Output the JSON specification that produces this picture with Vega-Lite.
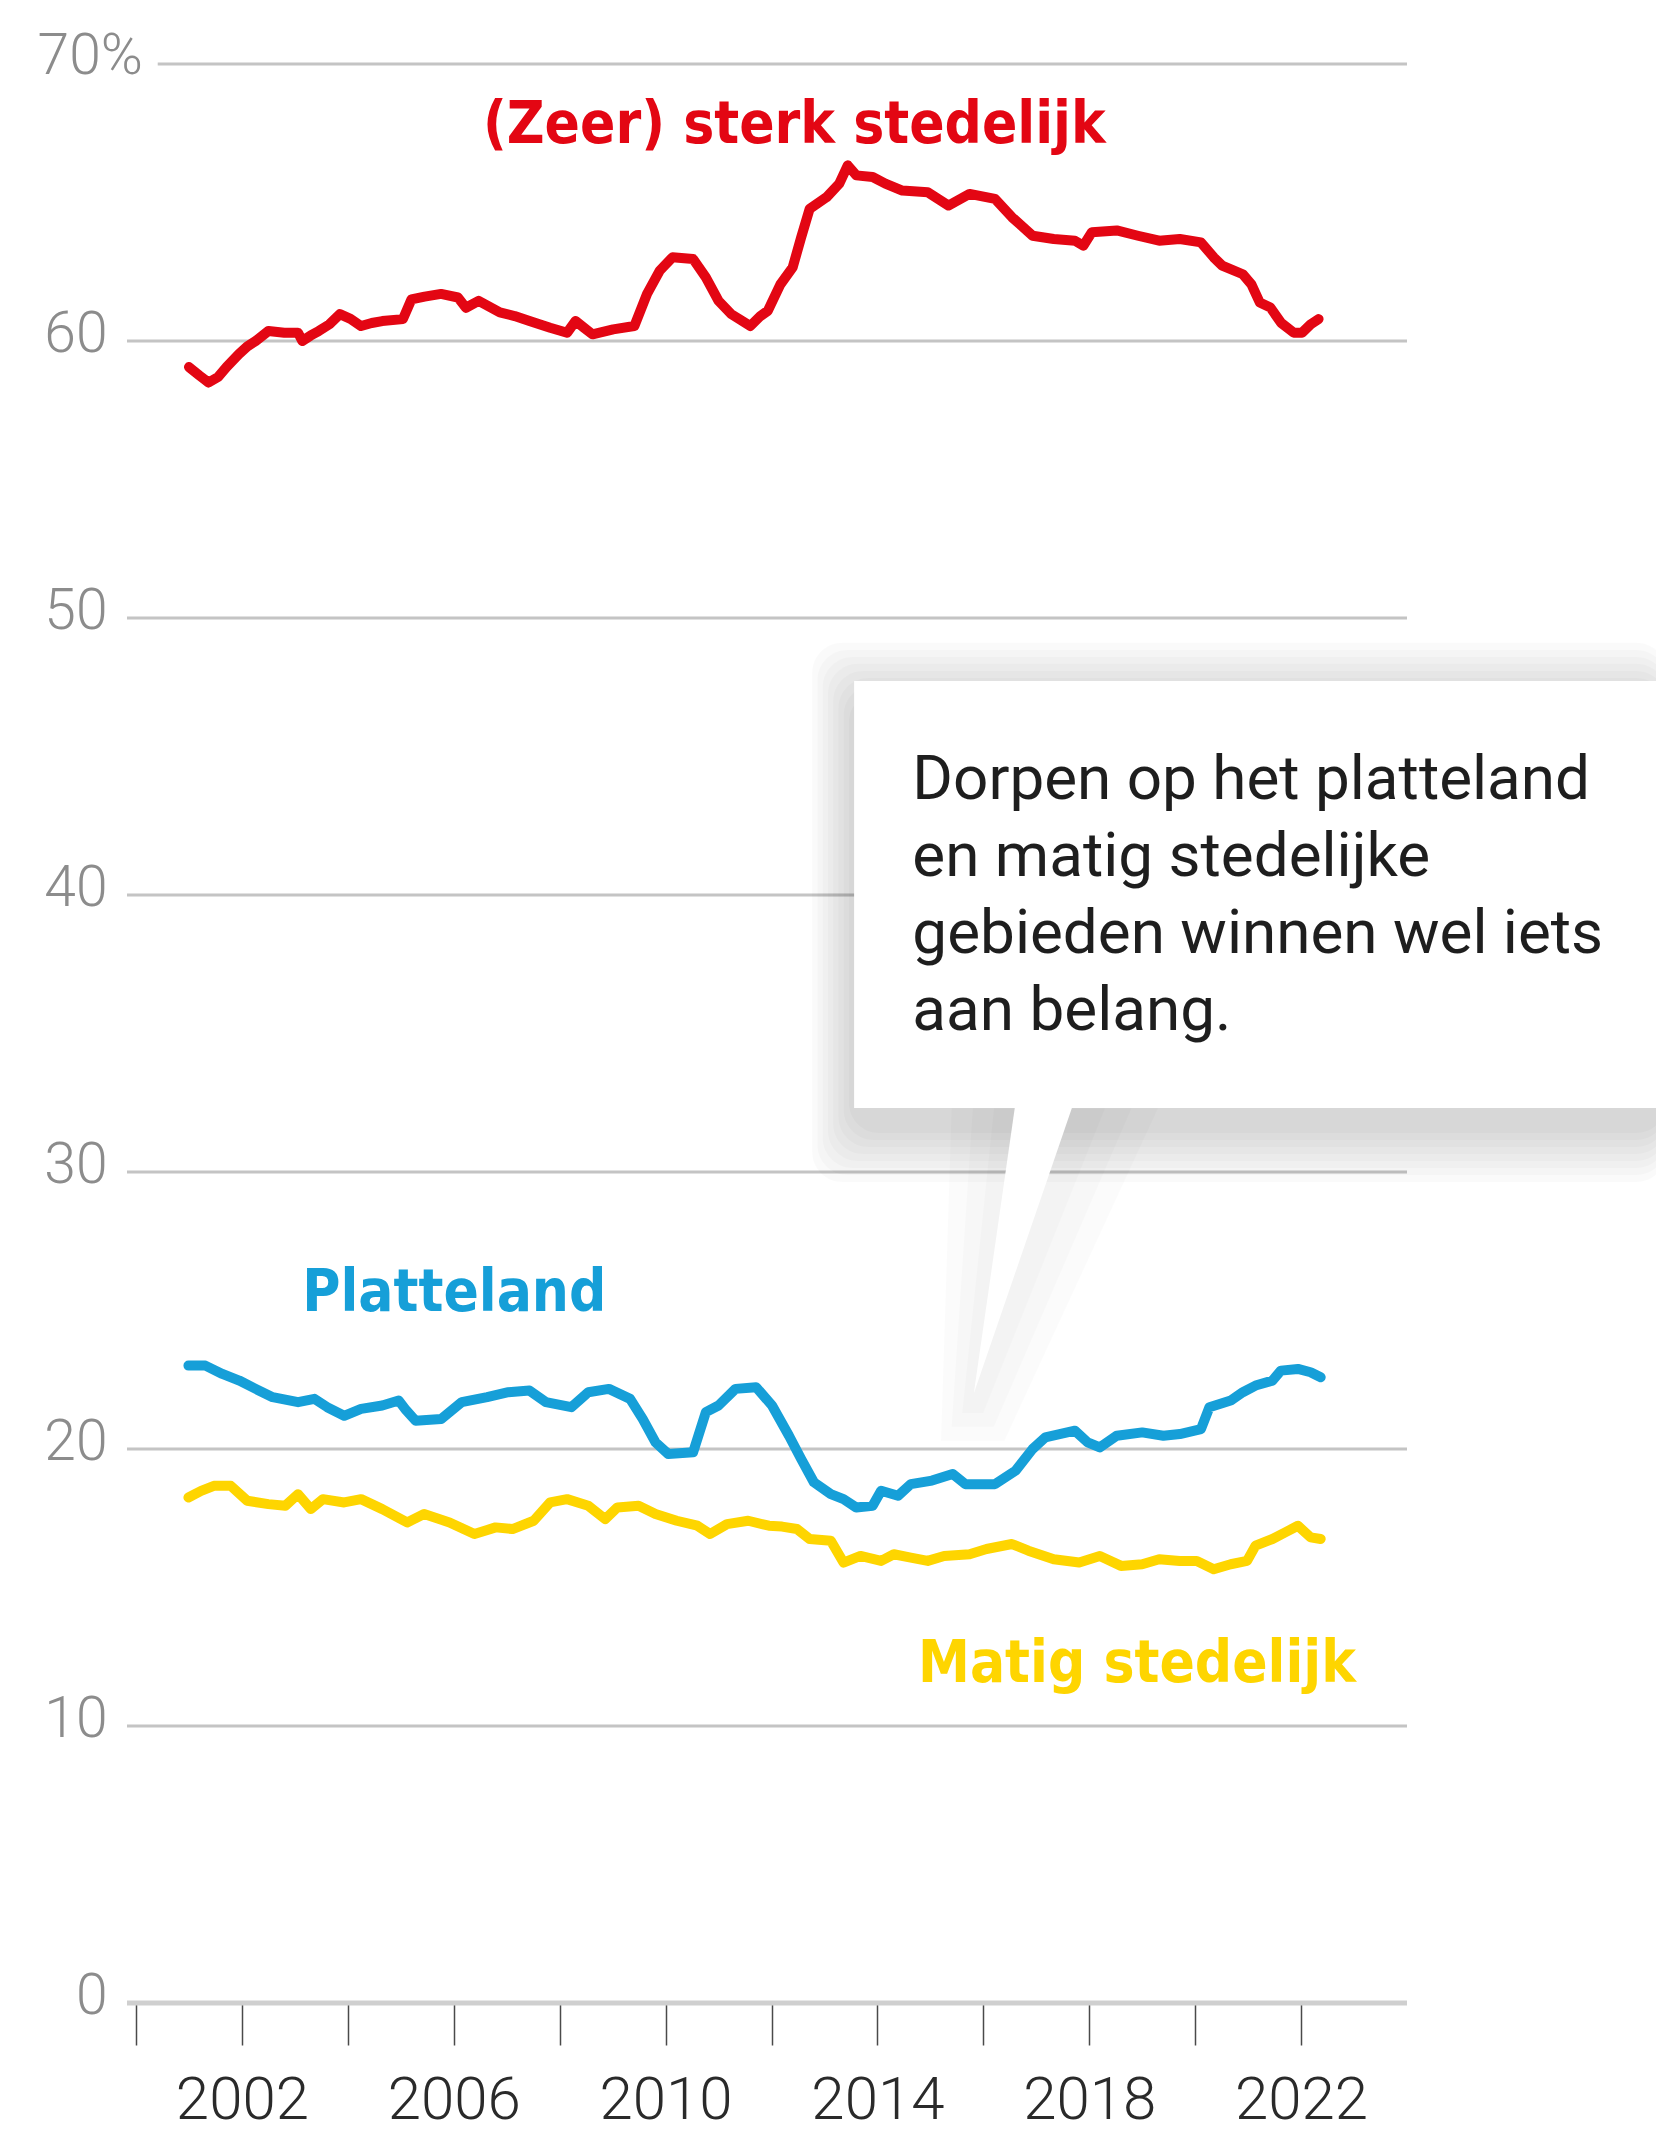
{
"$schema":"https://vega.github.io/schema/vega-lite/v6.json",
"width":1280,"height":1939,
"autosize":{"type":"none"},
"padding":{"left":127,"top":64,"right":249,"bottom":135},
"background":"white",
"config":{"view":{"stroke":null}},
"datasets":{
"grid":[{"v":10,"t":1999.83,"t2":2024},{"v":20,"t":1999.83,"t2":2024},{"v":30,"t":1999.83,"t2":2024},{"v":40,"t":1999.83,"t2":2024},{"v":50,"t":1999.83,"t2":2024},{"v":60,"t":1999.83,"t2":2024},{"v":70,"t":2000.41,"t2":2024}],
"base":[{"v":0,"t":1999.83,"t2":2024}],
"series":[
{"s":"(Zeer) sterk stedelijk","t":2001.0,"v":59.06},{"s":"(Zeer) sterk stedelijk","t":2001.2,"v":58.75},{"s":"(Zeer) sterk stedelijk","t":2001.37,"v":58.5},{"s":"(Zeer) sterk stedelijk","t":2001.55,"v":58.7},{"s":"(Zeer) sterk stedelijk","t":2001.71,"v":59.06},{"s":"(Zeer) sterk stedelijk","t":2001.94,"v":59.52},{"s":"(Zeer) sterk stedelijk","t":2002.1,"v":59.8},{"s":"(Zeer) sterk stedelijk","t":2002.26,"v":60.0},{"s":"(Zeer) sterk stedelijk","t":2002.5,"v":60.36},{"s":"(Zeer) sterk stedelijk","t":2002.8,"v":60.3},{"s":"(Zeer) sterk stedelijk","t":2003.06,"v":60.3},{"s":"(Zeer) sterk stedelijk","t":2003.14,"v":60.0},{"s":"(Zeer) sterk stedelijk","t":2003.3,"v":60.2},{"s":"(Zeer) sterk stedelijk","t":2003.45,"v":60.36},{"s":"(Zeer) sterk stedelijk","t":2003.65,"v":60.6},{"s":"(Zeer) sterk stedelijk","t":2003.85,"v":60.97},{"s":"(Zeer) sterk stedelijk","t":2004.05,"v":60.8},{"s":"(Zeer) sterk stedelijk","t":2004.25,"v":60.54},{"s":"(Zeer) sterk stedelijk","t":2004.45,"v":60.65},{"s":"(Zeer) sterk stedelijk","t":2004.65,"v":60.72},{"s":"(Zeer) sterk stedelijk","t":2005.04,"v":60.79},{"s":"(Zeer) sterk stedelijk","t":2005.2,"v":61.5},{"s":"(Zeer) sterk stedelijk","t":2005.45,"v":61.6},{"s":"(Zeer) sterk stedelijk","t":2005.76,"v":61.7},{"s":"(Zeer) sterk stedelijk","t":2006.08,"v":61.57},{"s":"(Zeer) sterk stedelijk","t":2006.23,"v":61.2},{"s":"(Zeer) sterk stedelijk","t":2006.47,"v":61.45},{"s":"(Zeer) sterk stedelijk","t":2006.87,"v":61.03},{"s":"(Zeer) sterk stedelijk","t":2007.15,"v":60.9},{"s":"(Zeer) sterk stedelijk","t":2007.43,"v":60.72},{"s":"(Zeer) sterk stedelijk","t":2007.82,"v":60.48},{"s":"(Zeer) sterk stedelijk","t":2008.14,"v":60.3},{"s":"(Zeer) sterk stedelijk","t":2008.3,"v":60.72},{"s":"(Zeer) sterk stedelijk","t":2008.46,"v":60.48},{"s":"(Zeer) sterk stedelijk","t":2008.62,"v":60.24},{"s":"(Zeer) sterk stedelijk","t":2009.01,"v":60.42},{"s":"(Zeer) sterk stedelijk","t":2009.41,"v":60.54},{"s":"(Zeer) sterk stedelijk","t":2009.65,"v":61.7},{"s":"(Zeer) sterk stedelijk","t":2009.89,"v":62.54},{"s":"(Zeer) sterk stedelijk","t":2010.13,"v":63.02},{"s":"(Zeer) sterk stedelijk","t":2010.52,"v":62.96},{"s":"(Zeer) sterk stedelijk","t":2010.76,"v":62.3},{"s":"(Zeer) sterk stedelijk","t":2011.0,"v":61.45},{"s":"(Zeer) sterk stedelijk","t":2011.24,"v":60.97},{"s":"(Zeer) sterk stedelijk","t":2011.6,"v":60.54},{"s":"(Zeer) sterk stedelijk","t":2011.79,"v":60.9},{"s":"(Zeer) sterk stedelijk","t":2011.93,"v":61.09},{"s":"(Zeer) sterk stedelijk","t":2012.17,"v":62.05},{"s":"(Zeer) sterk stedelijk","t":2012.4,"v":62.66},{"s":"(Zeer) sterk stedelijk","t":2012.56,"v":63.74},{"s":"(Zeer) sterk stedelijk","t":2012.72,"v":64.77},{"s":"(Zeer) sterk stedelijk","t":2013.04,"v":65.19},{"s":"(Zeer) sterk stedelijk","t":2013.28,"v":65.68},{"s":"(Zeer) sterk stedelijk","t":2013.44,"v":66.34},{"s":"(Zeer) sterk stedelijk","t":2013.6,"v":65.98},{"s":"(Zeer) sterk stedelijk","t":2013.91,"v":65.92},{"s":"(Zeer) sterk stedelijk","t":2014.15,"v":65.68},{"s":"(Zeer) sterk stedelijk","t":2014.47,"v":65.43},{"s":"(Zeer) sterk stedelijk","t":2014.95,"v":65.37},{"s":"(Zeer) sterk stedelijk","t":2015.34,"v":64.89},{"s":"(Zeer) sterk stedelijk","t":2015.74,"v":65.31},{"s":"(Zeer) sterk stedelijk","t":2016.22,"v":65.13},{"s":"(Zeer) sterk stedelijk","t":2016.54,"v":64.47},{"s":"(Zeer) sterk stedelijk","t":2016.93,"v":63.8},{"s":"(Zeer) sterk stedelijk","t":2017.33,"v":63.68},{"s":"(Zeer) sterk stedelijk","t":2017.73,"v":63.62},{"s":"(Zeer) sterk stedelijk","t":2017.89,"v":63.44},{"s":"(Zeer) sterk stedelijk","t":2018.05,"v":63.93},{"s":"(Zeer) sterk stedelijk","t":2018.52,"v":63.99},{"s":"(Zeer) sterk stedelijk","t":2018.92,"v":63.8},{"s":"(Zeer) sterk stedelijk","t":2019.32,"v":63.62},{"s":"(Zeer) sterk stedelijk","t":2019.71,"v":63.68},{"s":"(Zeer) sterk stedelijk","t":2020.11,"v":63.56},{"s":"(Zeer) sterk stedelijk","t":2020.35,"v":63.02},{"s":"(Zeer) sterk stedelijk","t":2020.51,"v":62.72},{"s":"(Zeer) sterk stedelijk","t":2020.9,"v":62.41},{"s":"(Zeer) sterk stedelijk","t":2021.06,"v":62.05},{"s":"(Zeer) sterk stedelijk","t":2021.22,"v":61.39},{"s":"(Zeer) sterk stedelijk","t":2021.42,"v":61.21},{"s":"(Zeer) sterk stedelijk","t":2021.62,"v":60.66},{"s":"(Zeer) sterk stedelijk","t":2021.86,"v":60.3},{"s":"(Zeer) sterk stedelijk","t":2022.02,"v":60.3},{"s":"(Zeer) sterk stedelijk","t":2022.18,"v":60.6},{"s":"(Zeer) sterk stedelijk","t":2022.33,"v":60.79},
{"s":"Platteland","t":2000.99,"v":23.01},{"s":"Platteland","t":2001.31,"v":23.01},{"s":"Platteland","t":2001.63,"v":22.71},{"s":"Platteland","t":2001.95,"v":22.47},{"s":"Platteland","t":2002.26,"v":22.17},{"s":"Platteland","t":2002.58,"v":21.87},{"s":"Platteland","t":2003.06,"v":21.69},{"s":"Platteland","t":2003.37,"v":21.81},{"s":"Platteland","t":2003.61,"v":21.51},{"s":"Platteland","t":2003.93,"v":21.2},{"s":"Platteland","t":2004.25,"v":21.45},{"s":"Platteland","t":2004.65,"v":21.57},{"s":"Platteland","t":2004.96,"v":21.75},{"s":"Platteland","t":2005.1,"v":21.4},{"s":"Platteland","t":2005.28,"v":21.02},{"s":"Platteland","t":2005.76,"v":21.08},{"s":"Platteland","t":2006.15,"v":21.69},{"s":"Platteland","t":2006.63,"v":21.87},{"s":"Platteland","t":2007.03,"v":22.05},{"s":"Platteland","t":2007.43,"v":22.11},{"s":"Platteland","t":2007.74,"v":21.69},{"s":"Platteland","t":2008.22,"v":21.51},{"s":"Platteland","t":2008.54,"v":22.05},{"s":"Platteland","t":2008.93,"v":22.17},{"s":"Platteland","t":2009.33,"v":21.81},{"s":"Platteland","t":2009.57,"v":21.08},{"s":"Platteland","t":2009.81,"v":20.24},{"s":"Platteland","t":2010.05,"v":19.82},{"s":"Platteland","t":2010.52,"v":19.88},{"s":"Platteland","t":2010.76,"v":21.33},{"s":"Platteland","t":2011.0,"v":21.57},{"s":"Platteland","t":2011.32,"v":22.17},{"s":"Platteland","t":2011.71,"v":22.23},{"s":"Platteland","t":2012.01,"v":21.57},{"s":"Platteland","t":2012.33,"v":20.48},{"s":"Platteland","t":2012.56,"v":19.64},{"s":"Platteland","t":2012.8,"v":18.8},{"s":"Platteland","t":2013.12,"v":18.37},{"s":"Platteland","t":2013.36,"v":18.19},{"s":"Platteland","t":2013.6,"v":17.89},{"s":"Platteland","t":2013.91,"v":17.95},{"s":"Platteland","t":2014.07,"v":18.49},{"s":"Platteland","t":2014.39,"v":18.31},{"s":"Platteland","t":2014.63,"v":18.73},{"s":"Platteland","t":2015.03,"v":18.86},{"s":"Platteland","t":2015.42,"v":19.1},{"s":"Platteland","t":2015.66,"v":18.73},{"s":"Platteland","t":2016.22,"v":18.73},{"s":"Platteland","t":2016.61,"v":19.22},{"s":"Platteland","t":2016.93,"v":20.0},{"s":"Platteland","t":2017.17,"v":20.42},{"s":"Platteland","t":2017.73,"v":20.66},{"s":"Platteland","t":2017.97,"v":20.24},{"s":"Platteland","t":2018.2,"v":20.06},{"s":"Platteland","t":2018.52,"v":20.48},{"s":"Platteland","t":2019.0,"v":20.6},{"s":"Platteland","t":2019.4,"v":20.48},{"s":"Platteland","t":2019.71,"v":20.54},{"s":"Platteland","t":2020.11,"v":20.72},{"s":"Platteland","t":2020.27,"v":21.51},{"s":"Platteland","t":2020.67,"v":21.75},{"s":"Platteland","t":2020.9,"v":22.05},{"s":"Platteland","t":2021.14,"v":22.29},{"s":"Platteland","t":2021.46,"v":22.47},{"s":"Platteland","t":2021.62,"v":22.83},{"s":"Platteland","t":2021.94,"v":22.89},{"s":"Platteland","t":2022.18,"v":22.77},{"s":"Platteland","t":2022.37,"v":22.59},
{"s":"Matig stedelijk","t":2000.99,"v":18.25},{"s":"Matig stedelijk","t":2001.23,"v":18.49},{"s":"Matig stedelijk","t":2001.47,"v":18.67},{"s":"Matig stedelijk","t":2001.79,"v":18.67},{"s":"Matig stedelijk","t":2002.1,"v":18.13},{"s":"Matig stedelijk","t":2002.5,"v":18.01},{"s":"Matig stedelijk","t":2002.82,"v":17.95},{"s":"Matig stedelijk","t":2003.06,"v":18.37},{"s":"Matig stedelijk","t":2003.3,"v":17.83},{"s":"Matig stedelijk","t":2003.53,"v":18.19},{"s":"Matig stedelijk","t":2003.93,"v":18.07},{"s":"Matig stedelijk","t":2004.25,"v":18.19},{"s":"Matig stedelijk","t":2004.65,"v":17.83},{"s":"Matig stedelijk","t":2005.12,"v":17.35},{"s":"Matig stedelijk","t":2005.44,"v":17.65},{"s":"Matig stedelijk","t":2005.92,"v":17.35},{"s":"Matig stedelijk","t":2006.39,"v":16.93},{"s":"Matig stedelijk","t":2006.79,"v":17.17},{"s":"Matig stedelijk","t":2007.11,"v":17.11},{"s":"Matig stedelijk","t":2007.51,"v":17.41},{"s":"Matig stedelijk","t":2007.82,"v":18.07},{"s":"Matig stedelijk","t":2008.14,"v":18.19},{"s":"Matig stedelijk","t":2008.54,"v":17.95},{"s":"Matig stedelijk","t":2008.86,"v":17.47},{"s":"Matig stedelijk","t":2009.09,"v":17.89},{"s":"Matig stedelijk","t":2009.49,"v":17.95},{"s":"Matig stedelijk","t":2009.81,"v":17.65},{"s":"Matig stedelijk","t":2010.21,"v":17.41},{"s":"Matig stedelijk","t":2010.6,"v":17.23},{"s":"Matig stedelijk","t":2010.84,"v":16.93},{"s":"Matig stedelijk","t":2011.16,"v":17.29},{"s":"Matig stedelijk","t":2011.56,"v":17.41},{"s":"Matig stedelijk","t":2011.95,"v":17.23},{"s":"Matig stedelijk","t":2012.2,"v":17.2},{"s":"Matig stedelijk","t":2012.48,"v":17.11},{"s":"Matig stedelijk","t":2012.72,"v":16.75},{"s":"Matig stedelijk","t":2013.12,"v":16.69},{"s":"Matig stedelijk","t":2013.36,"v":15.9},{"s":"Matig stedelijk","t":2013.68,"v":16.14},{"s":"Matig stedelijk","t":2014.07,"v":15.96},{"s":"Matig stedelijk","t":2014.31,"v":16.2},{"s":"Matig stedelijk","t":2014.63,"v":16.08},{"s":"Matig stedelijk","t":2014.95,"v":15.96},{"s":"Matig stedelijk","t":2015.26,"v":16.14},{"s":"Matig stedelijk","t":2015.74,"v":16.2},{"s":"Matig stedelijk","t":2016.06,"v":16.39},{"s":"Matig stedelijk","t":2016.54,"v":16.57},{"s":"Matig stedelijk","t":2016.85,"v":16.33},{"s":"Matig stedelijk","t":2017.33,"v":16.02},{"s":"Matig stedelijk","t":2017.81,"v":15.9},{"s":"Matig stedelijk","t":2018.2,"v":16.14},{"s":"Matig stedelijk","t":2018.6,"v":15.78},{"s":"Matig stedelijk","t":2019.0,"v":15.84},{"s":"Matig stedelijk","t":2019.32,"v":16.02},{"s":"Matig stedelijk","t":2019.71,"v":15.96},{"s":"Matig stedelijk","t":2020.03,"v":15.96},{"s":"Matig stedelijk","t":2020.35,"v":15.66},{"s":"Matig stedelijk","t":2020.67,"v":15.84},{"s":"Matig stedelijk","t":2020.98,"v":15.96},{"s":"Matig stedelijk","t":2021.14,"v":16.51},{"s":"Matig stedelijk","t":2021.46,"v":16.75},{"s":"Matig stedelijk","t":2021.7,"v":16.99},{"s":"Matig stedelijk","t":2021.94,"v":17.23},{"s":"Matig stedelijk","t":2022.18,"v":16.81},{"s":"Matig stedelijk","t":2022.37,"v":16.75}
],
"labels":[{"s":"(Zeer) sterk stedelijk","t":2012.43,"v":67.15},{"s":"Platteland","t":2006.01,"v":25.0},{"s":"Matig stedelijk","t":2018.9,"v":11.59}],
"shadow":[{"t":2013.461,"t2":2028.9,"v":47.333,"v2":31.407},{"t":2013.362,"t2":2028.9,"v":47.585,"v2":31.155},{"t":2013.263,"t2":2028.9,"v":47.838,"v2":30.902},{"t":2013.164,"t2":2028.9,"v":48.091,"v2":30.649},{"t":2013.065,"t2":2028.9,"v":48.344,"v2":30.396},{"t":2012.966,"t2":2028.9,"v":48.596,"v2":30.144},{"t":2012.867,"t2":2028.9,"v":48.849,"v2":29.891},{"t":2012.768,"t2":2028.9,"v":49.102,"v2":29.638}],
"box":[{"t":2013.56,"t2":2028.9,"v":47.73,"v2":32.31}],
"tailshadow":[{"g":"a","v":32.3,"t":2016.2,"t2":2018.3},{"g":"a","v":21.3,"t":2015.6,"t2":2016.0},{"g":"b","v":32.3,"t":2015.8,"t2":2018.8},{"g":"b","v":20.8,"t":2015.4,"t2":2016.2},{"g":"c","v":32.3,"t":2015.4,"t2":2019.3},{"g":"c","v":20.3,"t":2015.2,"t2":2016.4}],
"tail":[{"v":32.8,"t":2016.63,"t2":2017.76},{"v":22.0,"t":2015.82,"t2":2015.82}],
"note":[{"txt":"Dorpen op het platteland","t":2014.66,"v":43.48},{"txt":"en matig stedelijke","t":2014.66,"v":40.7},{"txt":"gebieden winnen wel iets","t":2014.66,"v":37.92},{"txt":"aan belang.","t":2014.66,"v":35.14}],
"pct":[{"txt":"70%","t":2000.13,"v":70}]
},
"encoding":{
 "x":{"field":"t","type":"quantitative","scale":{"domain":[1999.83,2024],"nice":false,"zero":false},
  "axis":{"values":[2000,2002,2004,2006,2008,2010,2012,2014,2016,2018,2020,2022],"labelExpr":"(datum.value - 2002) % 4 == 0 ? '' + datum.value : ''","title":null,"domain":false,"grid":false,"ticks":true,"tickSize":42,"tickColor":"#4a4a4a","tickWidth":1.5,"labelFont":"Roboto","labelFontWeight":300,"labelFontSize":60,"labelColor":"#2a2a2a","labelPadding":73,"labelBaseline":"alphabetic","labelOverlap":false,"labelFlush":false}},
 "y":{"field":"v","type":"quantitative","scale":{"domain":[0,70],"nice":false},
  "axis":{"values":[0,10,20,30,40,50,60,70],"labelExpr":"datum.value == 70 ? '' : '' + datum.value","title":null,"domain":false,"grid":false,"ticks":false,"labelFont":"Roboto","labelFontWeight":300,"labelFontSize":57,"labelColor":"#8c8c8c","labelPadding":20,"labelBaseline":"alphabetic","labelOffset":10,"labelOverlap":false}}
},
"layer":[
{"data":{"name":"grid"},"mark":{"type":"rule","color":"#c4c4c4","strokeWidth":3},"encoding":{"x2":{"field":"t2"}}},
{"data":{"name":"base"},"mark":{"type":"rule","color":"#cfcfcf","strokeWidth":5},"encoding":{"x2":{"field":"t2"}}},
{"data":{"name":"series"},"mark":{"type":"line","strokeWidth":10,"strokeJoin":"round","strokeCap":"round"},
 "encoding":{"color":{"field":"s","type":"nominal","scale":{"domain":["(Zeer) sterk stedelijk","Platteland","Matig stedelijk"],"range":["#e30613","#169fd8","#fed500"]},"legend":null}}},
{"data":{"name":"pct"},"mark":{"type":"text","align":"right","baseline":"alphabetic","dy":10,"font":"Roboto","fontWeight":300,"fontSize":57,"color":"#8c8c8c"},
 "encoding":{"text":{"field":"txt"}}},
{"data":{"name":"labels"},"mark":{"type":"text","align":"center","baseline":"alphabetic","font":"Liberation Sans Narrow, DejaVu Sans Condensed, sans-serif","fontWeight":"bold","fontSize":58},
 "encoding":{"text":{"field":"s"},
 "color":{"field":"s","type":"nominal","scale":{"domain":["(Zeer) sterk stedelijk","Platteland","Matig stedelijk"],"range":["#e30613","#169fd8","#fed500"]},"legend":null}}},
{"data":{"name":"shadow"},"mark":{"type":"rect","color":"#000000","opacity":0.018,"cornerRadius":30},"encoding":{"x2":{"field":"t2"},"y2":{"field":"v2"}}},
{"data":{"name":"tailshadow"},"mark":{"type":"area","orient":"horizontal","color":"#000000","opacity":0.014},"encoding":{"x2":{"field":"t2"},"detail":{"field":"g"}}},
{"data":{"name":"box"},"mark":{"type":"rect","color":"#ffffff"},"encoding":{"x2":{"field":"t2"},"y2":{"field":"v2"}}},
{"data":{"name":"tail"},"mark":{"type":"area","orient":"horizontal","color":"#ffffff","opacity":1},"encoding":{"x2":{"field":"t2"}}},
{"data":{"name":"note"},"mark":{"type":"text","align":"left","baseline":"alphabetic","font":"Roboto","fontWeight":400,"fontSize":62,"color":"#1e1e1e"},
 "encoding":{"text":{"field":"txt"}}}
]
}
